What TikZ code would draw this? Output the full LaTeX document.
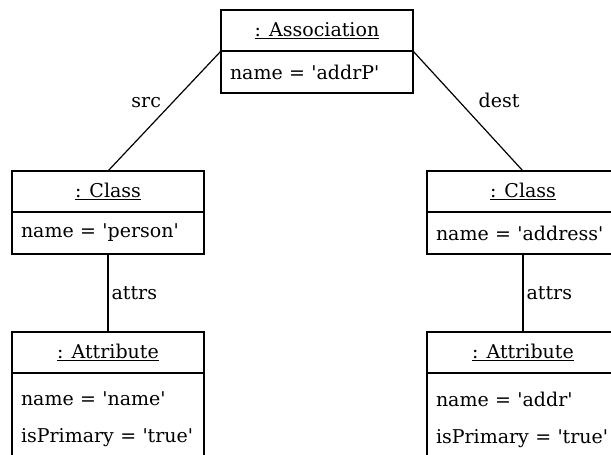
\documentclass[tikz,border=0pt]{standalone}
\usepackage{fontspec}
\setmainfont{DejaVu Serif}[Ligatures=TeXOff]
\usetikzlibrary{positioning}
\hyphenpenalty=10000
\exhyphenpenalty=10000

\begin{document}
\begin{tikzpicture}[x=1pt,y=-1pt]
	\tikzstyle{every node}=[font=\fontsize{19}{37}\selectfont]
	\tikzstyle{objhead}=[draw, line width=1.2pt, outer sep=0pt, minimum width=192pt, minimum height=41pt, inner sep=0pt]
	\tikzstyle{objslot}=[draw, line width=1.2pt, outer sep=0pt, text width=174pt, inner xsep=9pt, inner ysep=0pt, align=left, minimum height=42pt]
	\tikzstyle{link}=[line width=1.2pt]
	\tikzstyle{role}=[inner sep=3pt]
	\useasboundingbox (0,0) rectangle (611,455);
	\clip (0,0) rectangle (611,455);
	% association object
	\node[objhead] (assoc) at (317,30.5) {\underline{: Association}};
	\node[objslot, below=0pt of assoc] (assocslot) {name~=~'addrP'};
	% class objects
	\node[objhead] (pclass) at (108,191.5) {\underline{: Class}};
	\node[objslot, below=0pt of pclass] (pclassslot) {name~=~'person'};
	\node[objhead] (aclass) at (523,191.5) {\underline{: Class}};
	\node[objslot, below=0pt of aclass] (aclassslot) {name~=~'address'};
	% attribute objects
	\node[objhead] (pattr) at (108,352.5) {\underline{: Attribute}};
	\node[objslot, below=0pt of pattr, minimum height=93pt] (pattrslot) {name~=~'name'\\isPrimary~=~'true'};
	\node[objhead] (aattr) at (523,352.5) {\underline{: Attribute}};
	\node[objslot, below=0pt of aattr, minimum height=93pt] (aattrslot) {name~=~'addr'\\isPrimary~=~'true'};
	% links
	\draw[link] (assoc.south west) -- node[role, anchor=south east] (srclbl) {src} (pclass.north);
	\draw[link] (assoc.south east) -- node[role, anchor=south west, xshift=7pt] (destlbl) {dest} (aclass.north);
	\draw[link] (pclassslot.south) -- node[role, anchor=west] (pattrs) {attrs} (pattr.north);
	\draw[link] (aclassslot.south) -- node[role, anchor=west] (aattrs) {attrs} (aattr.north);
\end{tikzpicture}
\end{document}
